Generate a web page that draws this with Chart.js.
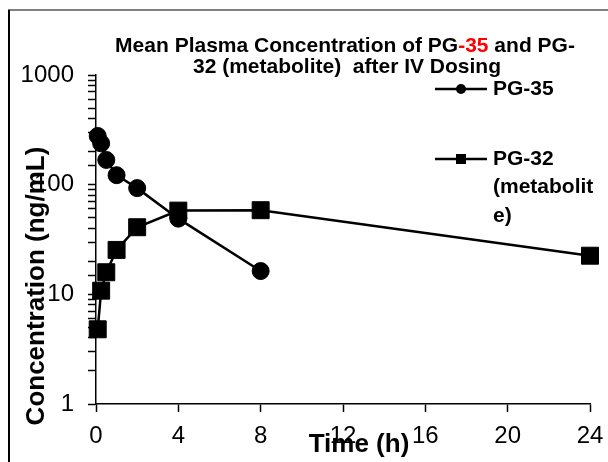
<!DOCTYPE html>
<html>
<head>
<meta charset="utf-8">
<script src="https://cdn.jsdelivr.net/npm/chart.js@4"></script>
<style>
  body { margin: 0; background: #fff; }
  canvas { display: block; }
</style>
</head>
<body>
<canvas id="pkChart" width="608" height="462"></canvas>
<script>
// data
const pg35Times = [0.083, 0.25, 0.5, 1, 2, 4, 8];
const pg35Conc = [278, 238, 168, 122, 93, 49, 16.3];
const pg32Times = [0.083, 0.25, 0.5, 1, 2, 4, 8, 24];
const pg32Conc = [4.8, 10.8, 15.9, 25.4, 40.9, 58, 58.5, 22.5];
const seriesNames = ["PG-35", "PG-32 (metabolite)"];
const yTickLabels = [1, 10, 100, 1000];
const xTickLabels = [0, 4, 8, 12, 16, 20, 24];

const toPoints = (xs, ys) => xs.map((x, i) => ({ x: x, y: ys[i] }));

// title, axis titles, legend, frame
const decorations = {
  id: "decorations",
  afterDraw(chart) {
    const ctx = chart.ctx;
    ctx.save();

    // frame (top grey, left black)
    ctx.lineWidth = 2;
    ctx.strokeStyle = "#808080";
    ctx.beginPath();
    ctx.moveTo(8, 10);
    ctx.lineTo(608, 10);
    ctx.stroke();
    ctx.strokeStyle = "#000";
    ctx.beginPath();
    ctx.moveTo(9, 10);
    ctx.lineTo(9, 462);
    ctx.stroke();

    // title with red "-35"
    ctx.font = "bold 21px 'Liberation Sans', Arial, sans-serif";
    ctx.textBaseline = "alphabetic";
    ctx.textAlign = "left";
    const parts = [
      ["Mean Plasma Concentration of PG", "#000"],
      ["-35", "#ff0000"],
      [" and PG-", "#000"],
    ];
    const total = parts.reduce((s, p) => s + ctx.measureText(p[0]).width, 0);
    let x = 345 - total / 2;
    parts.forEach((p) => {
      ctx.fillStyle = p[1];
      ctx.fillText(p[0], x, 52);
      x += ctx.measureText(p[0]).width;
    });
    ctx.fillStyle = "#000";
    ctx.textAlign = "center";
    ctx.fillText("32 (metabolite)  after IV Dosing", 347, 73);

    // axis titles
    ctx.font = "bold 26px 'Liberation Sans', Arial, sans-serif";
    ctx.textBaseline = "middle";
    ctx.fillText("Time (h)", 359, 445);
    ctx.save();
    ctx.translate(37, 286);
    ctx.rotate(-Math.PI / 2);
    ctx.fillText("Concentration (ng/mL)", 0, 0);
    ctx.restore();

    // legend
    const legendRows = [
      { y: 89, style: "circle", lines: [seriesNames[0]] },
      { y: 159, style: "rect", lines: ["PG-32", "(metabolit", "e)"] },
    ];
    ctx.font = "bold 21px 'Liberation Sans', Arial, sans-serif";
    ctx.textAlign = "left";
    legendRows.forEach((row) => {
      ctx.lineWidth = 2.5;
      ctx.beginPath();
      ctx.moveTo(435, row.y);
      ctx.lineTo(487, row.y);
      ctx.stroke();
      if (row.style === "circle") {
        ctx.beginPath();
        ctx.arc(461, row.y, 5, 0, Math.PI * 2);
        ctx.fill();
      } else {
        ctx.fillRect(456, row.y - 5, 10, 10);
      }
      row.lines.forEach((t, i) => ctx.fillText(t, 493, row.y + i * 28.5));
    });

    ctx.restore();
  },
};

const ctx = document.getElementById("pkChart").getContext("2d");

new Chart(ctx, {
  type: "line",
  data: {
    datasets: [
      {
        label: seriesNames[0],
        data: toPoints(pg35Times, pg35Conc),
        borderColor: "#000",
        backgroundColor: "#000",
        borderWidth: 2.5,
        pointStyle: "circle",
        pointRadius: 8.5,
        pointBorderWidth: 1,
        clip: false,
        order: 2,
      },
      {
        label: seriesNames[1],
        data: toPoints(pg32Times, pg32Conc),
        borderColor: "#000",
        backgroundColor: "#000",
        borderWidth: 2.5,
        pointStyle: "rect",
        pointRadius: 12,
        pointBorderWidth: 1,
        clip: false,
        order: 1,
      },
    ],
  },
  options: {
    responsive: false,
    animation: false,
    layout: { padding: { top: 75, right: 18, left: 0, bottom: 0 } },
    plugins: {
      legend: { display: false },
      title: { display: false },
      tooltip: { enabled: false },
    },
    scales: {
      x: {
        type: "linear",
        min: 0,
        max: 24,
        afterFit: (scale) => {
          scale.height = 58;
          // let the layout padding alone decide the right edge
          scale.paddingLeft = 0;
          scale.paddingRight = 0;
        },
        afterBuildTicks: (scale) => {
          scale.ticks = xTickLabels.map((v) => ({ value: v }));
        },
        ticks: {
          color: "#000",
          padding: 10,
          maxRotation: 0,
          autoSkip: false,
          font: { family: "'Liberation Sans', Arial, sans-serif", size: 24 },
        },
        grid: {
          drawOnChartArea: false,
          tickLength: 8,
          tickColor: "#000",
          tickWidth: 1.5,
        },
        border: { color: "#000", width: 1.5 },
      },
      y: {
        type: "logarithmic",
        min: 1,
        max: 1000,
        afterFit: (scale) => {
          scale.width = 96;
          scale.paddingTop = 0;
          scale.paddingBottom = 0;
        },
        ticks: {
          color: "#000",
          padding: 14,
          autoSkip: false,
          font: { family: "'Liberation Sans', Arial, sans-serif", size: 24 },
          callback: (v) => (yTickLabels.includes(v) ? String(v) : ""),
        },
        grid: {
          drawOnChartArea: false,
          tickLength: 8,
          tickColor: "#000",
          tickWidth: 1.5,
        },
        border: { color: "#000", width: 1.5 },
      },
    },
  },
  plugins: [decorations],
});
</script>
</body>
</html>
